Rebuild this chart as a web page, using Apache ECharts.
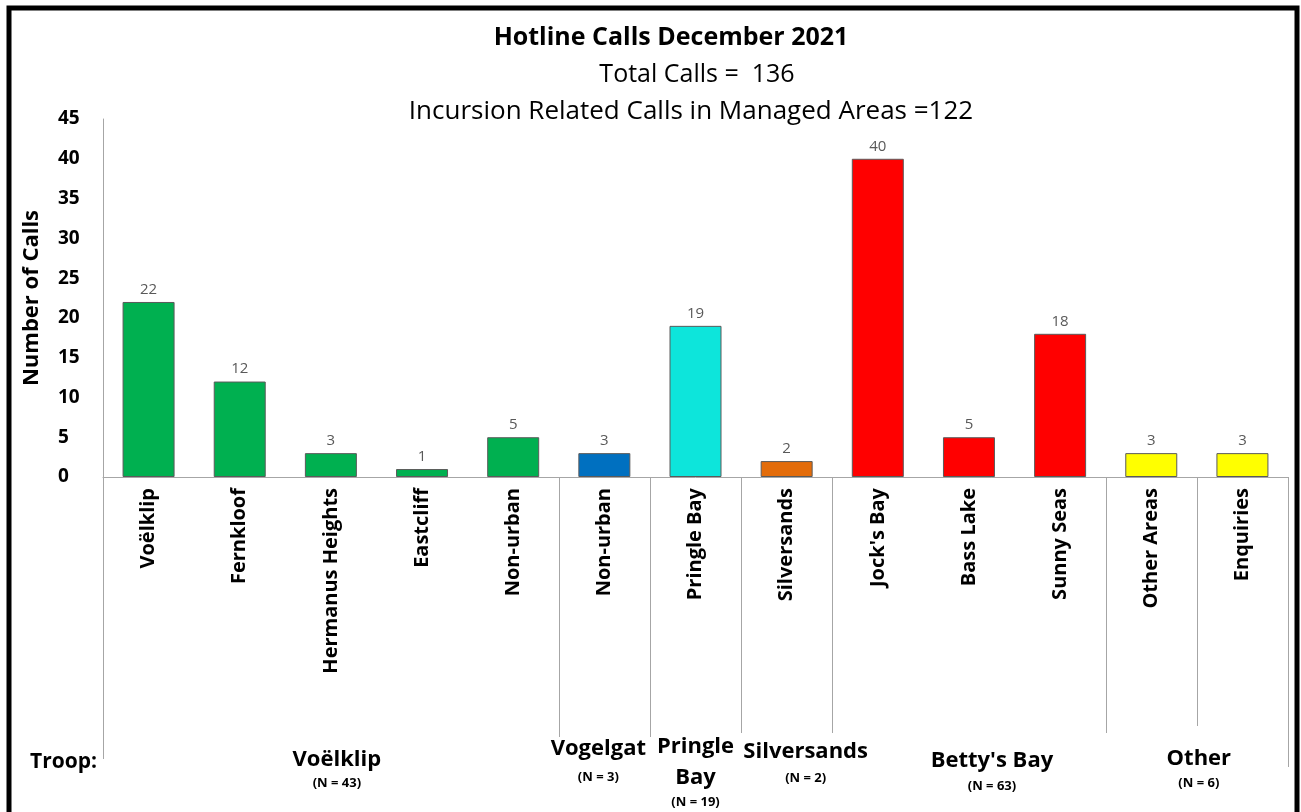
<!DOCTYPE html>
<html>
<head>
<meta charset="utf-8">
<script src="https://cdn.jsdelivr.net/npm/echarts@6/dist/echarts.min.js"></script>
<style>
  html, body { margin: 0; padding: 0; background: #fff; }
  #main { width: 1301px; height: 812px; }
</style>
</head>
<body>
<div id="main"></div>
<script>
// 数据
var categories = ['Voëlklip', 'Fernkloof', 'Hermanus Heights', 'Eastcliff', 'Non-urban', 'Non-urban',
    'Pringle Bay', 'Silversands', "Jock's Bay", 'Bass Lake', 'Sunny Seas', 'Other Areas', 'Enquiries'];
var calls = [22, 12, 3, 1, 5, 3, 19, 2, 40, 5, 18, 3, 3];
var yTicks = [0, 5, 10, 15, 20, 25, 30, 35, 40, 45];

var troops = ['Voëlklip', 'Vogelgat', 'Pringle\nBay', 'Silversands', "Betty's Bay", 'Other'];
var troopN = [43, 3, 19, 2, 63, 6];
var troopSize = [5, 1, 1, 1, 3, 2];

// 样式
var barColors = ['#00B050', '#00B050', '#00B050', '#00B050', '#00B050', '#0070C0',
    '#0DE5DB', '#E36C0A', '#FF0000', '#FF0000', '#FF0000', '#FFFF00', '#FFFF00'];
var dividers = [0, 5, 6, 7, 8, 11, 12, 13];
var dividerEnd = [759, 737, 737, 733, 733, 733, 726, 767];
var troopDx = [6, -6, 0, 19, 23, 2];
var troopY = [760, 749, 762, 752, 761, 759];
var troopNY = [783, 777, 802, 778, 786, 783];
var axisGrey = '#a6a6a6';
var font = '"Open Sans", Lato, sans-serif';

var myChart = echarts.init(document.getElementById('main'));

var option = {
    backgroundColor: '#fff',
    animation: false,
    title: [
        { text: 'Hotline Calls December 2021', left: 666, top: 20, textAlign: 'center',
          textStyle: { fontFamily: font, fontSize: 25, fontWeight: 'bold', color: '#000' } },
        { text: 'Total Calls =  136', left: 692, top: 57, textAlign: 'center',
          textStyle: { fontFamily: font, fontSize: 25, fontWeight: 'normal', color: '#000' } },
        { text: 'Incursion Related Calls in Managed Areas =122', left: 686, top: 94, textAlign: 'center',
          textStyle: { fontFamily: font, fontSize: 26, fontWeight: 'normal', color: '#000' } }
    ],
    grid: { left: 103, right: 13, top: 119, bottom: 335, containLabel: false },
    xAxis: {
        type: 'category',
        data: categories,
        axisLine: { lineStyle: { color: axisGrey, width: 1 } },
        axisTick: { show: false },
        axisLabel: {
            rotate: 90, interval: 0, margin: 11,
            fontFamily: font, fontSize: 20, fontWeight: 'bold', color: '#000'
        }
    },
    yAxis: {
        type: 'value',
        min: yTicks[0], max: yTicks[yTicks.length - 1], interval: 5,
        name: 'Number of Calls',
        nameLocation: 'middle', nameRotate: 90, nameGap: 60,
        nameTextStyle: { fontFamily: font, fontSize: 22, fontWeight: 'bold', color: '#000' },
        axisLine: { show: true, lineStyle: { color: axisGrey, width: 1 } },
        axisTick: { show: false },
        splitLine: { show: false },
        axisLabel: { margin: 45, align: 'left', fontFamily: font, fontSize: 19, fontWeight: 'bold', color: '#000' }
    },
    series: [{
        type: 'bar',
        barWidth: 52,
        data: calls.map(function (v, i) {
            return { value: v, itemStyle: { color: barColors[i] } };
        }),
        itemStyle: { borderColor: '#5a5a5a', borderWidth: 1 },
        label: {
            show: true, position: 'top', distance: 5,
            fontFamily: font, fontSize: 15, color: '#595959'
        }
    }]
};
myChart.setOption(option);

// 分组标签和分隔线
var band = myChart.convertToPixel({ xAxisIndex: 0 }, 1) - myChart.convertToPixel({ xAxisIndex: 0 }, 0);
var x0 = myChart.convertToPixel({ xAxisIndex: 0 }, 0) - band / 2;
var yZero = myChart.convertToPixel({ yAxisIndex: 0 }, 0);
function edgeX(k) { return x0 + k * band; }

var elements = [];
// 外框
elements.push({
    type: 'rect', shape: { x: 9, y: 8, width: 1288, height: 830 },
    style: { fill: null, stroke: '#000', lineWidth: 5 }, z: 100
});
dividers.forEach(function (k, i) {
    var x = Math.round(edgeX(k)) + 0.5;
    elements.push({
        type: 'line', shape: { x1: x, y1: yZero, x2: x, y2: dividerEnd[i] },
        style: { stroke: axisGrey, lineWidth: 1 }
    });
});
var start = 0;
troops.forEach(function (name, i) {
    var cx = (edgeX(start) + edgeX(start + troopSize[i])) / 2 + troopDx[i];
    elements.push({
        type: 'text', x: cx, y: troopY[i],
        style: { text: name, fontFamily: font, fontSize: 22, fontWeight: 'bold', fill: '#000',
                 align: 'center', verticalAlign: 'middle', lineHeight: 31 }
    });
    elements.push({
        type: 'text', x: cx, y: troopNY[i],
        style: { text: '(N = ' + troopN[i] + ')', fontFamily: font, fontSize: 13, fontWeight: 'bold', fill: '#000',
                 align: 'center', verticalAlign: 'middle' }
    });
    start += troopSize[i];
});
elements.push({
    type: 'text', x: 30, y: 762,
    style: { text: 'Troop:', fontFamily: font, fontSize: 21, fontWeight: 'bold', fill: '#000',
             align: 'left', verticalAlign: 'middle' }
});
myChart.setOption({ graphic: { elements: elements } });
</script>
</body>
</html>
